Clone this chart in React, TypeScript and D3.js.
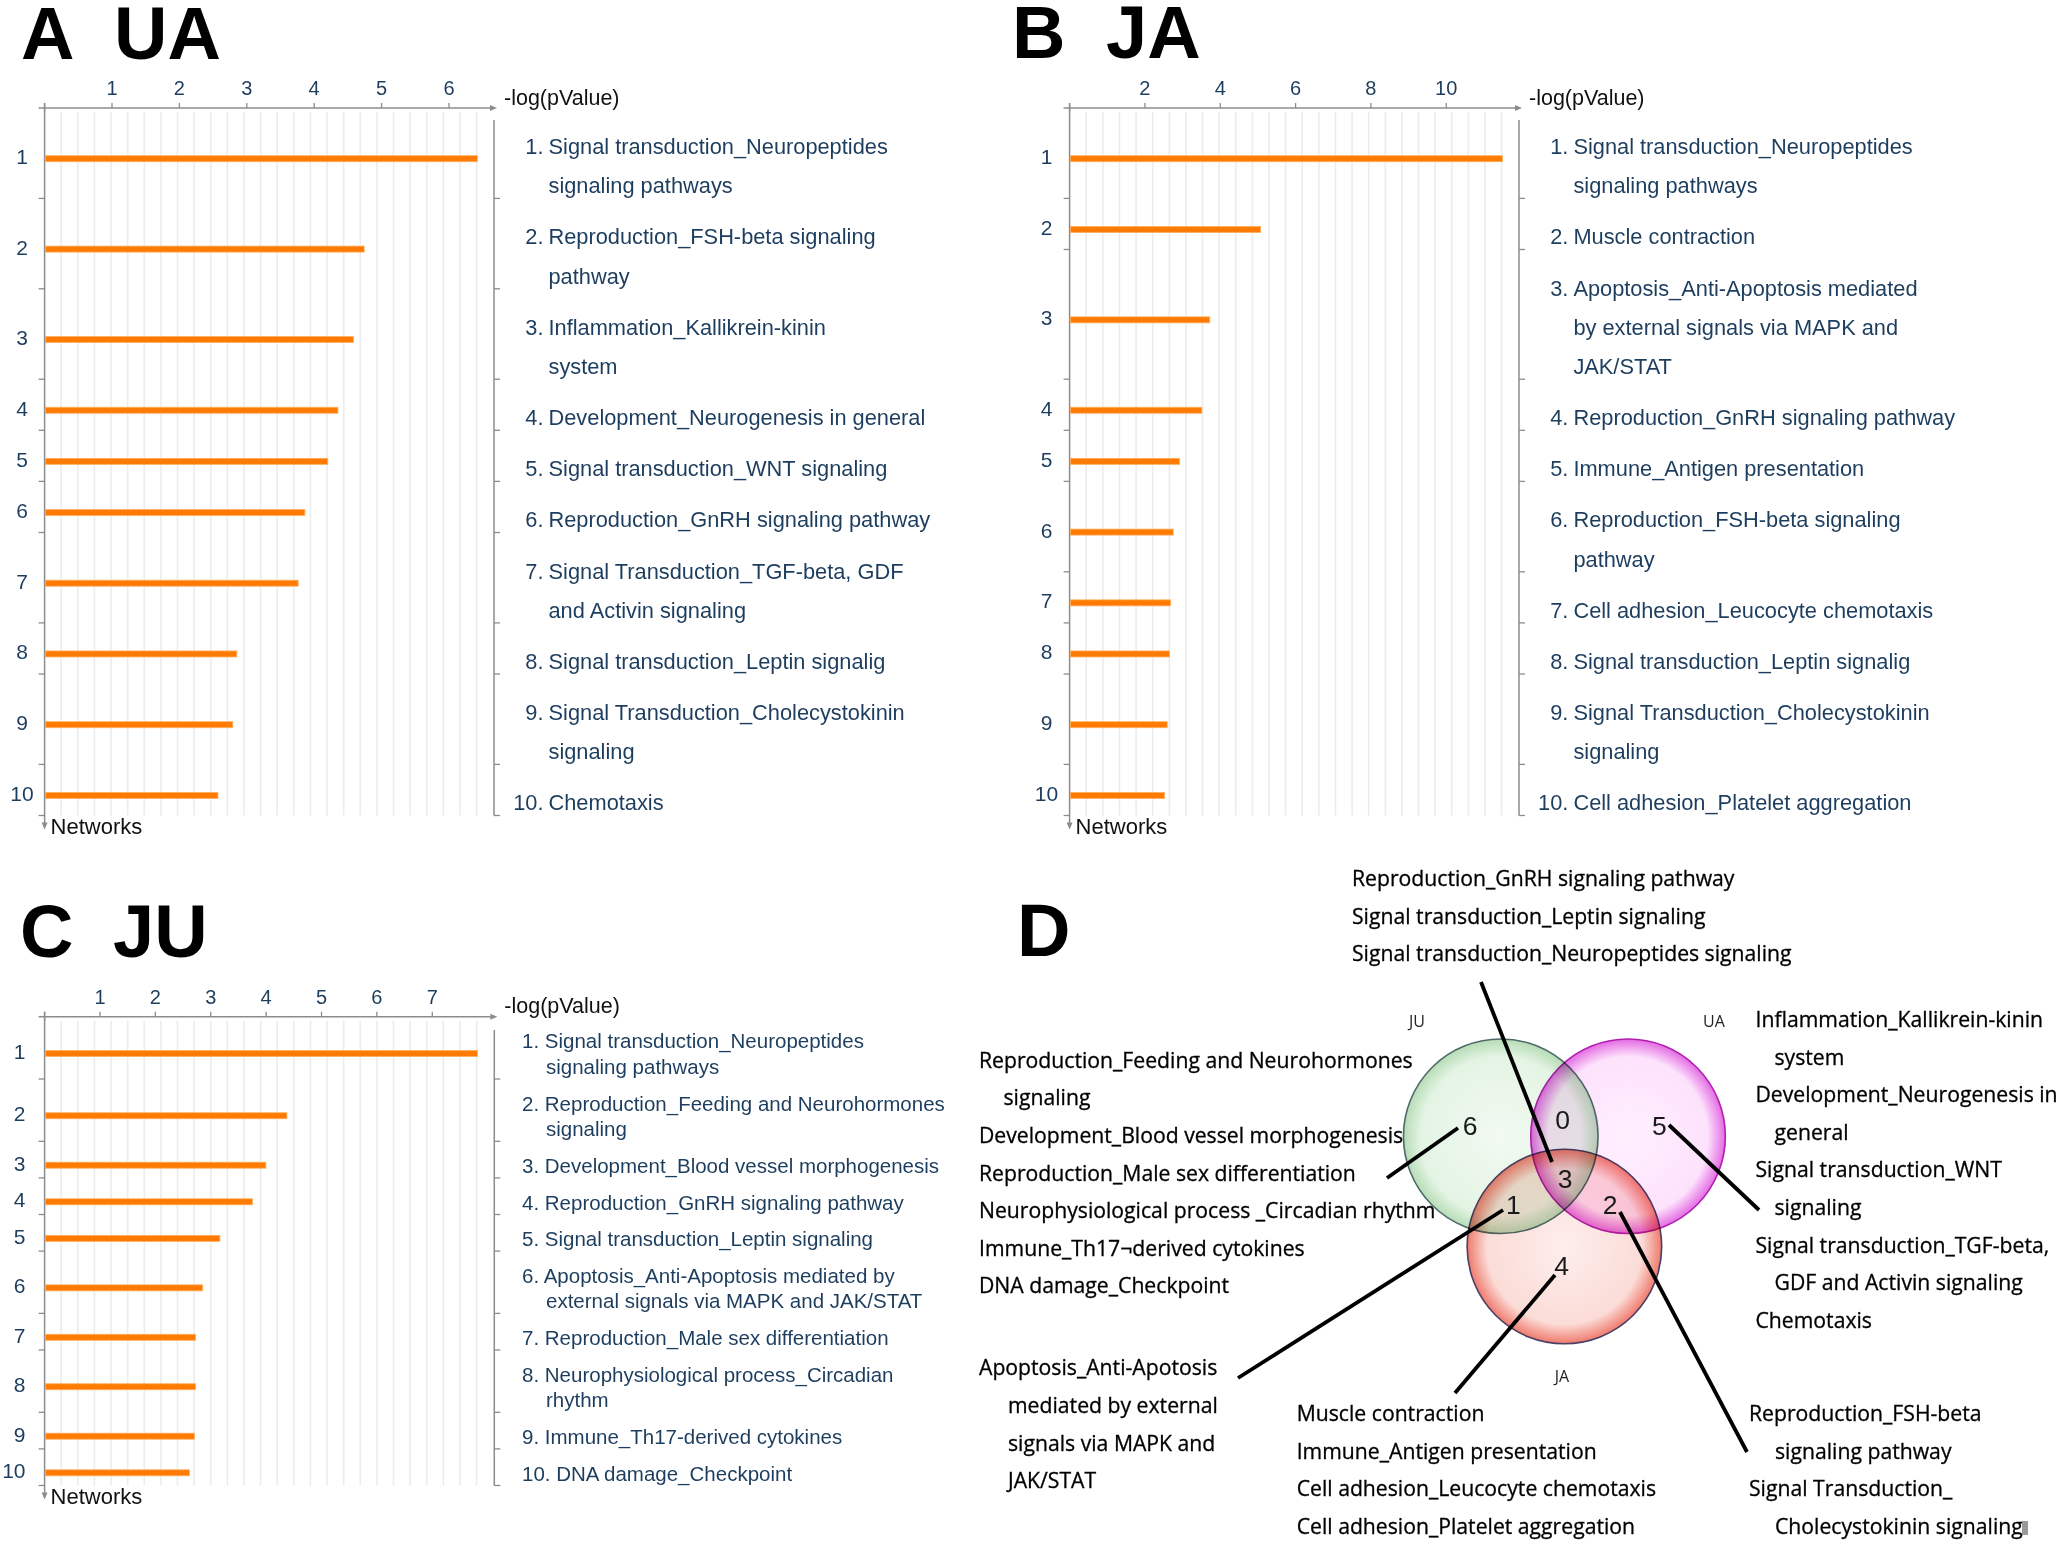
import React from "react";
import * as d3 from "d3";

// ---------- panel A : UA ----------
const uaNetworks: string[][] = [
  ["Signal transduction_Neuropeptides", "signaling pathways"],
  ["Reproduction_FSH-beta signaling", "pathway"],
  ["Inflammation_Kallikrein-kinin", "system"],
  ["Development_Neurogenesis in general"],
  ["Signal transduction_WNT signaling"],
  ["Reproduction_GnRH signaling pathway"],
  ["Signal Transduction_TGF-beta, GDF", "and Activin signaling"],
  ["Signal transduction_Leptin signalig"],
  ["Signal Transduction_Cholecystokinin", "signaling"],
  ["Chemotaxis"],
];
const uaValues = [6.41, 4.73, 4.57, 4.34, 4.19, 3.85, 3.75, 2.84, 2.78, 2.56];
const uaTicks = [1, 2, 3, 4, 5, 6];

// ---------- panel B : JA ----------
const jaNetworks: string[][] = [
  ["Signal transduction_Neuropeptides", "signaling pathways"],
  ["Muscle contraction"],
  ["Apoptosis_Anti-Apoptosis mediated", "by external signals via MAPK and", "JAK/STAT"],
  ["Reproduction_GnRH signaling pathway"],
  ["Immune_Antigen presentation"],
  ["Reproduction_FSH-beta signaling", "pathway"],
  ["Cell adhesion_Leucocyte chemotaxis"],
  ["Signal transduction_Leptin signalig"],
  ["Signal Transduction_Cholecystokinin", "signaling"],
  ["Cell adhesion_Platelet aggregation"],
];
const jaValues = [11.47, 5.05, 3.7, 3.49, 2.9, 2.73, 2.66, 2.63, 2.57, 2.5];
const jaTicks = [2, 4, 6, 8, 10];

// ---------- panel C : JU ----------
const juNetworks: string[][] = [
  ["Signal transduction_Neuropeptides", "signaling pathways"],
  ["Reproduction_Feeding and Neurohormones", "signaling"],
  ["Development_Blood vessel morphogenesis"],
  ["Reproduction_GnRH signaling pathway"],
  ["Signal transduction_Leptin signaling"],
  ["Apoptosis_Anti-Apoptosis mediated by", "external signals via MAPK and JAK/STAT"],
  ["Reproduction_Male sex differentiation"],
  ["Neurophysiological process_Circadian", "rhythm"],
  ["Immune_Th17-derived cytokines"],
  ["DNA damage_Checkpoint"],
];
const juValues = [7.8, 4.36, 3.98, 3.74, 3.15, 2.84, 2.71, 2.71, 2.69, 2.6];
const juTicks = [1, 2, 3, 4, 5, 6, 7];

// ---------- panel D : Venn ----------
const vennSets = ["JU", "UA", "JA"];
const regionCounts = [6, 0, 5, 3, 1, 2, 4]; // JU, JU∩UA, UA, all, JU∩JA, UA∩JA, JA
const termsAll = [
  ["Reproduction_GnRH signaling pathway"],
  ["Signal transduction_Leptin signaling"],
  ["Signal transduction_Neuropeptides signaling"],
];
const termsJU = [
  ["Reproduction_Feeding and Neurohormones", "signaling"],
  ["Development_Blood vessel morphogenesis"],
  ["Reproduction_Male sex differentiation"],
  ["Neurophysiological process _Circadian rhythm"],
  ["Immune_Th17\u00acderived cytokines"],
  ["DNA damage_Checkpoint"],
];
const termsJUJA = [["Apoptosis_Anti-Apotosis", "mediated by external", "signals via MAPK and", "JAK/STAT"]];
const termsJA = [
  ["Muscle contraction"],
  ["Immune_Antigen presentation"],
  ["Cell adhesion_Leucocyte chemotaxis"],
  ["Cell adhesion_Platelet aggregation"],
];
const termsUAJA = [
  ["Reproduction_FSH-beta", "signaling pathway"],
  ["Signal Transduction_", "Cholecystokinin signaling"],
];
const termsUA = [
  ["Inflammation_Kallikrein-kinin", "system"],
  ["Development_Neurogenesis in", "general"],
  ["Signal transduction_WNT", "signaling"],
  ["Signal transduction_TGF-beta,", "GDF and Activin signaling"],
  ["Chemotaxis"],
];

const FONT_BAR = "'Liberation Sans', Arial, Helvetica, sans-serif";
const FONT_VENN = "'Open Sans', 'Noto Sans', sans-serif";
const NAVY = "#1d3d5e";
const AXIS = "#8c8c8c";
const GRID = "#ececec";
const PLOT_W = 432;

interface PanelProps {
  values: number[];
  labels: string[][];
  ticks: number[];
  x0: number;
  axisY: number;
  frameX: number;
  frameTop: number;
  rowNumX: number;
  rowNumAnchor: "middle" | "end";
  textX: number;
  contX: number;
  numMode: "right" | "left";
  labelSize: number;
  lineH: number;
  pad: number;
  baseOff: number;
  barOff: number;
}

function BarPanel(p: PanelProps) {
  const max = d3.max(p.values)!;
  const x = d3.scaleLinear().domain([0, max]).range([p.x0, p.x0 + PLOT_W]);
  const heights = p.labels.map((l) => l.length * p.lineH + p.pad);
  const tops: number[] = [];
  let acc = p.axisY;
  heights.forEach((h) => {
    tops.push(acc);
    acc += h;
  });
  const bottom = acc;
  const bounds = tops.slice(1).concat([bottom]);
  const grid = d3.range(1, 27).map((i) => x((max * i) / 26));
  const tip = p.frameX + 3;
  const downTip = bottom + 14;

  return (
    <g>
      {grid.map((gx, i) => (
        <line key={"g" + i} x1={gx} x2={gx} y1={p.axisY + 4} y2={bottom} stroke={GRID} strokeWidth={1.6} />
      ))}
      {/* horizontal axis */}
      <line x1={p.x0 - 6} x2={tip - 5} y1={p.axisY} y2={p.axisY} stroke={AXIS} strokeWidth={1.5} />
      <path d={`M${tip},${p.axisY} L${tip - 7},${p.axisY - 3} L${tip - 7},${p.axisY + 3} Z`} fill={AXIS} />
      {[0, ...p.ticks].map((t) => (
        <line key={"t" + t} x1={x(t)} x2={x(t)} y1={p.axisY - 5} y2={p.axisY + (t === 0 ? 4 : 0)} stroke={AXIS} strokeWidth={1.3} />
      ))}
      {p.ticks.map((t) => (
        <text key={"tl" + t} x={x(t)} y={p.axisY - 13} textAnchor="middle" fontFamily={FONT_BAR} fontSize={20} fill={NAVY}>
          {t}
        </text>
      ))}
      <text x={p.frameX + 10} y={p.axisY - 3.5} fontFamily={FONT_BAR} fontSize={21.5} fill="#111">
        -log(pValue)
      </text>
      {/* left axis */}
      <line x1={p.x0} x2={p.x0} y1={p.axisY - 5} y2={downTip - 5} stroke={AXIS} strokeWidth={1.5} />
      <path d={`M${p.x0},${downTip} L${p.x0 - 3},${downTip - 7} L${p.x0 + 3},${downTip - 7} Z`} fill={AXIS} />
      {bounds.map((b, i) => (
        <line key={"lb" + i} x1={p.x0 - 6} x2={p.x0} y1={b} y2={b} stroke={AXIS} strokeWidth={1.3} />
      ))}
      {/* right frame */}
      <line x1={p.frameX} x2={p.frameX} y1={p.frameTop} y2={bottom} stroke={AXIS} strokeWidth={1.5} />
      {bounds.map((b, i) => (
        <line key={"rb" + i} x1={p.frameX} x2={p.frameX + 6} y1={b} y2={b} stroke={AXIS} strokeWidth={1.3} />
      ))}
      <text x={p.x0 + 6} y={bottom + 18} fontFamily={FONT_BAR} fontSize={22} fill="#111">
        Networks
      </text>
      {/* bars, row numbers and labels */}
      {p.values.map((v, i) => {
        const by = tops[i] + heights[i] / 2 + p.barOff;
        return (
          <g key={"r" + i}>
            <rect x={x(0) + 0.8} y={by - 3} width={x(v) - x(0)} height={6} fill="#ff7a00" stroke="#ffae5c" strokeWidth={0.8} />
            <text x={p.rowNumX} y={by + 5.5} textAnchor={p.rowNumAnchor} fontFamily={FONT_BAR} fontSize={21} fill={NAVY}>
              {i + 1}
            </text>
            {p.labels[i].map((line, k) => {
              const ly = tops[i] + p.baseOff + k * p.lineH;
              if (p.numMode === "left") {
                return (
                  <text key={k} x={k === 0 ? p.textX : p.contX} y={ly} fontFamily={FONT_BAR} fontSize={p.labelSize} fill={NAVY}>
                    {k === 0 ? `${i + 1}. ${line}` : line}
                  </text>
                );
              }
              return (
                <g key={k}>
                  {k === 0 && (
                    <text x={p.textX - 5} y={ly} textAnchor="end" fontFamily={FONT_BAR} fontSize={p.labelSize} fill={NAVY}>
                      {`${i + 1}.`}
                    </text>
                  )}
                  <text x={p.textX} y={ly} fontFamily={FONT_BAR} fontSize={p.labelSize} fill={NAVY}>
                    {line}
                  </text>
                </g>
              );
            })}
          </g>
        );
      })}
    </g>
  );
}

// text block for the Venn annotations
function TermBlock({ terms, x, y0, indent, step = 37.6 }: { terms: string[][]; x: number; y0: number; indent: number; step?: number }) {
  const lines: { t: string; cont: boolean }[] = [];
  terms.forEach((term) => term.forEach((t, k) => lines.push({ t, cont: k > 0 })));
  return (
    <g>
      {lines.map((l, i) => (
        <text
          key={i}
          x={l.cont ? x + indent : x}
          y={y0 + i * step}
          fontFamily={FONT_VENN}
          fontSize={21.2}
          fill="#000"
          stroke="#000"
          strokeWidth={0.3}
        >
          {l.t}
        </text>
      ))}
    </g>
  );
}

function Venn() {
  const V = { cx: 1564.4, cy: 1173, d: 73.5, r: 97.3 };
  const angles = [210, 330, 90];
  const centers = angles.map((a) => ({
    x: V.cx + V.d * Math.cos((a * Math.PI) / 180),
    y: V.cy + V.d * Math.sin((a * Math.PI) / 180),
  }));
  const fills = ["url(#gJU)", "url(#gUA)", "url(#gJA)"];
  const strokes = ["#4f6a6a", "#b21fb2", "#4a3f66"];
  // positions of region counts relative to the diagram centre
  const regionPos = [
    [-94.4, -48], [-1.7, -53.7], [94.9, -48], [0.6, 5.3], [-51, 31], [45.6, 31], [-2.7, 92],
  ];
  const setLabelPos = [
    [1417, 1027], [1714, 1027], [1562, 1382],
  ];
  const leaders = [
    [1481, 982, 1552, 1162],
    [1458, 1128, 1387, 1178],
    [1669, 1125, 1759, 1210],
    [1503, 1210, 1238, 1378],
    [1620, 1212, 1747, 1452],
    [1555, 1275, 1455, 1393],
  ];
  return (
    <g>
      <defs>
        <radialGradient id="gJU" cx="50%" cy="50%" r="50%">
          <stop offset="0%" stopColor="#f2faf2" />
          <stop offset="82%" stopColor="#e4f4e4" />
          <stop offset="100%" stopColor="#b6dcb6" />
        </radialGradient>
        <radialGradient id="gUA" cx="50%" cy="50%" r="50%">
          <stop offset="0%" stopColor="#fff0ff" />
          <stop offset="82%" stopColor="#fde2fc" />
          <stop offset="100%" stopColor="#e36be3" />
        </radialGradient>
        <radialGradient id="gJA" cx="50%" cy="50%" r="50%">
          <stop offset="0%" stopColor="#fdeeec" />
          <stop offset="80%" stopColor="#fbdcd7" />
          <stop offset="100%" stopColor="#ef7a6c" />
        </radialGradient>
      </defs>
      <g style={{ isolation: "isolate" }}>
        {centers.map((c, i) => (
          <circle key={i} cx={c.x} cy={c.y} r={V.r} fill={fills[i]} stroke={strokes[i]} strokeWidth={1.6} style={{ mixBlendMode: "multiply" }} />
        ))}
      </g>
      {vennSets.map((s, i) => (
        <text key={s} x={setLabelPos[i][0]} y={setLabelPos[i][1]} textAnchor="middle" fontFamily={FONT_VENN} fontSize={16} fill="#222">
          {s}
        </text>
      ))}
      {regionCounts.map((n, i) => (
        <text key={i} x={V.cx + regionPos[i][0]} y={V.cy + regionPos[i][1] + 9.5} textAnchor="middle" fontFamily={FONT_BAR} fontSize={26.5} fill="#1a1a1a">
          {n}
        </text>
      ))}
      {leaders.map((l, i) => (
        <line key={i} x1={l[0]} y1={l[1]} x2={l[2]} y2={l[3]} stroke="#000" strokeWidth={3.8} />
      ))}
      <TermBlock terms={termsAll} x={1352} y0={886} indent={0} />
      <TermBlock terms={termsJU} x={979} y0={1067.7} indent={24.5} />
      <TermBlock terms={termsJUJA} x={979} y0={1375.3} indent={29} />
      <TermBlock terms={termsJA} x={1296.7} y0={1421} indent={0} />
      <TermBlock terms={termsUAJA} x={1749} y0={1421} indent={26} />
      <TermBlock terms={termsUA} x={1755.5} y0={1027} indent={19} />
      <rect x={2022} y={1521} width={6} height={14} fill="#9a9a9a" />
    </g>
  );
}

function Title({ parts }: { parts: [string, number, number][] }) {
  return (
    <g>
      {parts.map(([t, x, y], i) => (
        <text key={i} x={x} y={y} fontFamily={FONT_BAR} fontWeight="bold" fontSize={74} fill="#000">
          {t}
        </text>
      ))}
    </g>
  );
}

export default function App() {
  const abLayout = {
    axisY: 108,
    lineH: 39.3,
    pad: 11.8,
    baseOff: 46,
    barOff: 5.5,
    labelSize: 21.8,
    numMode: "right" as const,
    rowNumAnchor: "middle" as const,
  };
  return (
    <svg
      width={2060}
      height={1548}
      viewBox="0 0 2060 1548"
      style={{ position: "absolute", left: 0, top: 0, background: "#fff", display: "block" }}
    >
      <rect width={2060} height={1548} fill="#fff" />
      <Title parts={[["A", 21, 59], ["UA", 114, 59]]} />
      <Title parts={[["B", 1012, 58], ["JA", 1106, 58]]} />
      <Title parts={[["C", 20, 957], ["JU", 113, 957]]} />
      <Title parts={[["D", 1017, 956]]} />

      <BarPanel
        {...abLayout}
        values={uaValues}
        labels={uaNetworks}
        ticks={uaTicks}
        x0={44.6}
        frameX={494}
        frameTop={120}
        rowNumX={22}
        textX={548.5}
        contX={548.5}
      />
      <BarPanel
        {...abLayout}
        values={jaValues}
        labels={jaNetworks}
        ticks={jaTicks}
        x0={1069.6}
        frameX={1519}
        frameTop={120}
        rowNumX={1046.5}
        textX={1573.4}
        contX={1573.4}
      />
      <BarPanel
        values={juValues}
        labels={juNetworks}
        ticks={juTicks}
        x0={44.6}
        axisY={1016.7}
        frameX={494.3}
        frameTop={1030}
        rowNumX={25.5}
        rowNumAnchor="end"
        textX={522}
        contX={546}
        numMode="left"
        labelSize={20.5}
        lineH={25.7}
        pad={10.9}
        baseOff={31.6}
        barOff={5.6}
      />
      <Venn />
    </svg>
  );
}
